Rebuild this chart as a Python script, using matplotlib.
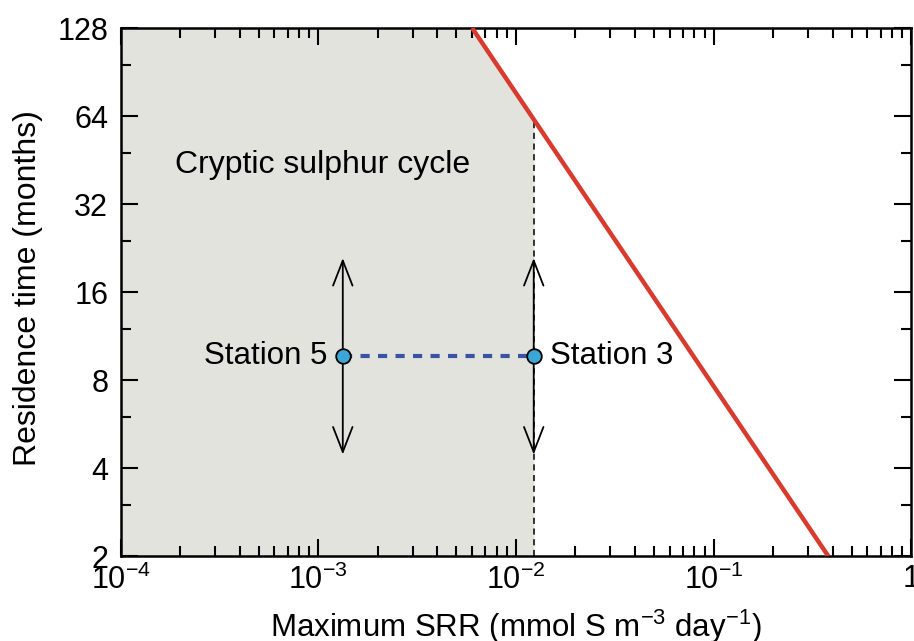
import numpy as np
import matplotlib
matplotlib.use('Agg')
import matplotlib.pyplot as plt
import matplotlib.ticker as ticker

plt.rcParams['font.family'] = ['Liberation Sans', 'DejaVu Sans']
plt.rcParams['mathtext.fontset'] = 'custom'
plt.rcParams['mathtext.rm'] = 'Liberation Sans'
plt.rcParams['mathtext.it'] = 'Liberation Sans'
plt.rcParams['font.size'] = 22

# red limit line (SRR vs residence time), end points
red_x = [0.0060, 0.38]
red_y = [128, 2]

# stations: max SRR and residence time with range
stn_names = ['Station 5', 'Station 3']
stn_x = [0.00133, 0.0123]
stn_y = [9.7, 9.7]
stn_lo = [4.45, 4.45]
stn_hi = [20.9, 20.9]

y_major = [2, 4, 8, 16, 32, 64, 128]
y_minor = [3, 6, 12, 24, 48, 96]
x_major = [1e-4, 1e-3, 1e-2, 1e-1, 1]
x_labels = [r'$10^{-4}$', r'$10^{-3}$', r'$10^{-2}$', r'$10^{-1}$', '1']

def red_at(x):
    lx = np.log10(red_x)
    ly = np.log2(red_y)
    return 2 ** np.interp(np.log10(x), lx, ly)

fig = plt.figure(figsize=(9.14, 6.41), dpi=100)
ax = fig.add_axes([0.132, 0.1326, 0.865, 0.8237])
ax.set_xscale('log')
ax.set_yscale('log', base=2)
ax.set_xlim(1e-4, 1)
ax.set_ylim(2, 128)

# grey cryptic region: left of station 3, below the red line
x_cut = stn_x[1]
xs = np.logspace(-4, np.log10(x_cut), 200)
ax.fill_between(xs, 2, np.minimum(128, red_at(xs)), color='#e3e3de', lw=0, zorder=0)

ax.plot([x_cut, x_cut], [2, red_at(x_cut)], color='black', lw=1.1,
        ls=(0, (4, 3)), zorder=1)
ax.plot(red_x, red_y, color='#d93a2e', lw=3.2, solid_capstyle='butt', zorder=3)

for i in range(len(stn_x)):
    ax.annotate('', xy=(stn_x[i], stn_hi[i]), xytext=(stn_x[i], stn_lo[i]),
                arrowprops=dict(arrowstyle='<->,head_length=18,head_width=7',
                                mutation_scale=1, color='black', lw=1.3,
                                shrinkA=0, shrinkB=0), zorder=2)

ax.plot(stn_x, stn_y, color='#3a54a3', lw=3, ls=(0, (2.2, 2.0)), zorder=3)
ax.plot(stn_x, stn_y, 'o', ms=10.5, mfc='#3aa7d8', mec='black', mew=1.3, zorder=4)

ax.annotate(stn_names[0], (stn_x[0], stn_y[0]), xytext=(-11, 0),
            textcoords='offset points', ha='right', va='center', fontsize=22.5)
ax.annotate(stn_names[1], (stn_x[1], stn_y[1]), xytext=(12, 0),
            textcoords='offset points', ha='left', va='center', fontsize=22.5)

ax.text(1.88e-4, 43.5, 'Cryptic sulphur cycle', ha='left', va='center', fontsize=23)

ax.yaxis.set_major_locator(ticker.FixedLocator(y_major))
ax.yaxis.set_minor_locator(ticker.FixedLocator(y_minor))
ax.yaxis.set_major_formatter(ticker.FixedFormatter([str(v) for v in y_major]))
ax.yaxis.set_minor_formatter(ticker.NullFormatter())
ax.xaxis.set_major_locator(ticker.FixedLocator(x_major))
ax.xaxis.set_major_formatter(ticker.FixedFormatter(x_labels))
ax.xaxis.set_minor_locator(ticker.LogLocator(base=10, subs=np.arange(2, 10)))
ax.xaxis.set_minor_formatter(ticker.NullFormatter())

ax.tick_params(which='both', direction='in', top=True, right=True, width=1.5)
ax.tick_params(which='major', length=12)
ax.tick_params(which='minor', length=7)
ax.tick_params(axis='y', which='major', pad=9)
ax.tick_params(axis='x', which='major', pad=6)
for s in ax.spines.values():
    s.set_linewidth(1.8)

# axis titles placed on the figure
fig.text(0.132 + 0.865 / 2, 0.006, r'Maximum SRR (mmol S m$^{-3}$ day$^{-1}$)',
         ha='center', va='baseline', fontsize=22.5)
fig.text(0.031, 0.55, 'Residence time (months)', rotation=90,
         ha='center', va='center', fontsize=23)

fig.savefig('out.png', dpi=100)
